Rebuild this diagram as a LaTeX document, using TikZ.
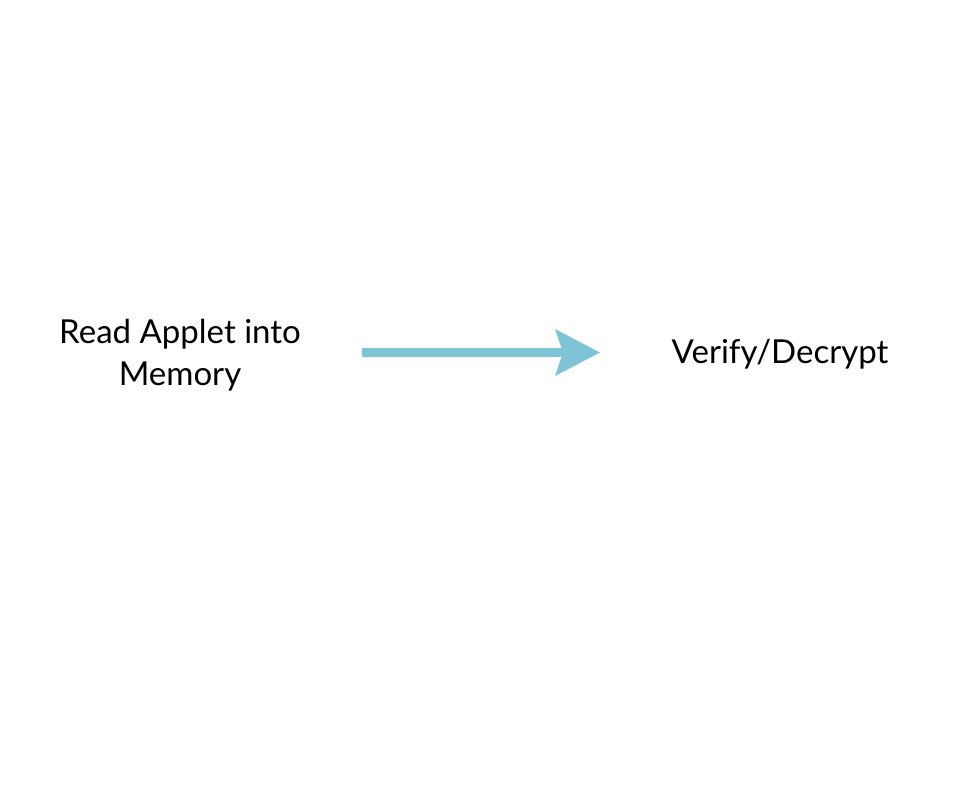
\documentclass[tikz,border=0pt]{standalone}
\usepackage{fontspec}
\setmainfont{Lato}
\usetikzlibrary{calc}
\definecolor{arrowblue}{HTML}{7EC4D6}
\begin{document}
\begin{tikzpicture}[x=1pt,y=-1pt,
  label/.style={font=\fontsize{33}{42}\selectfont, align=center, text=black, inner sep=0pt}]
\useasboundingbox (0,0) rectangle (963,810);
\node[label] (read) at (180,355) {Read Applet into\\Memory};
\node[label] (verify) at (780,354) {Verify/Decrypt};
\coordinate (s) at (362,352.5);
\coordinate (n) at (563,352.5);
\coordinate (t) at (600,352.5);
\fill[arrowblue] ($(s)+(0,-4.5)$) rectangle ($(n)+(0,4.5)$);
\fill[arrowblue] (t) -- (555,329) -- (n) -- (555,376) -- cycle;
\end{tikzpicture}
\end{document}
